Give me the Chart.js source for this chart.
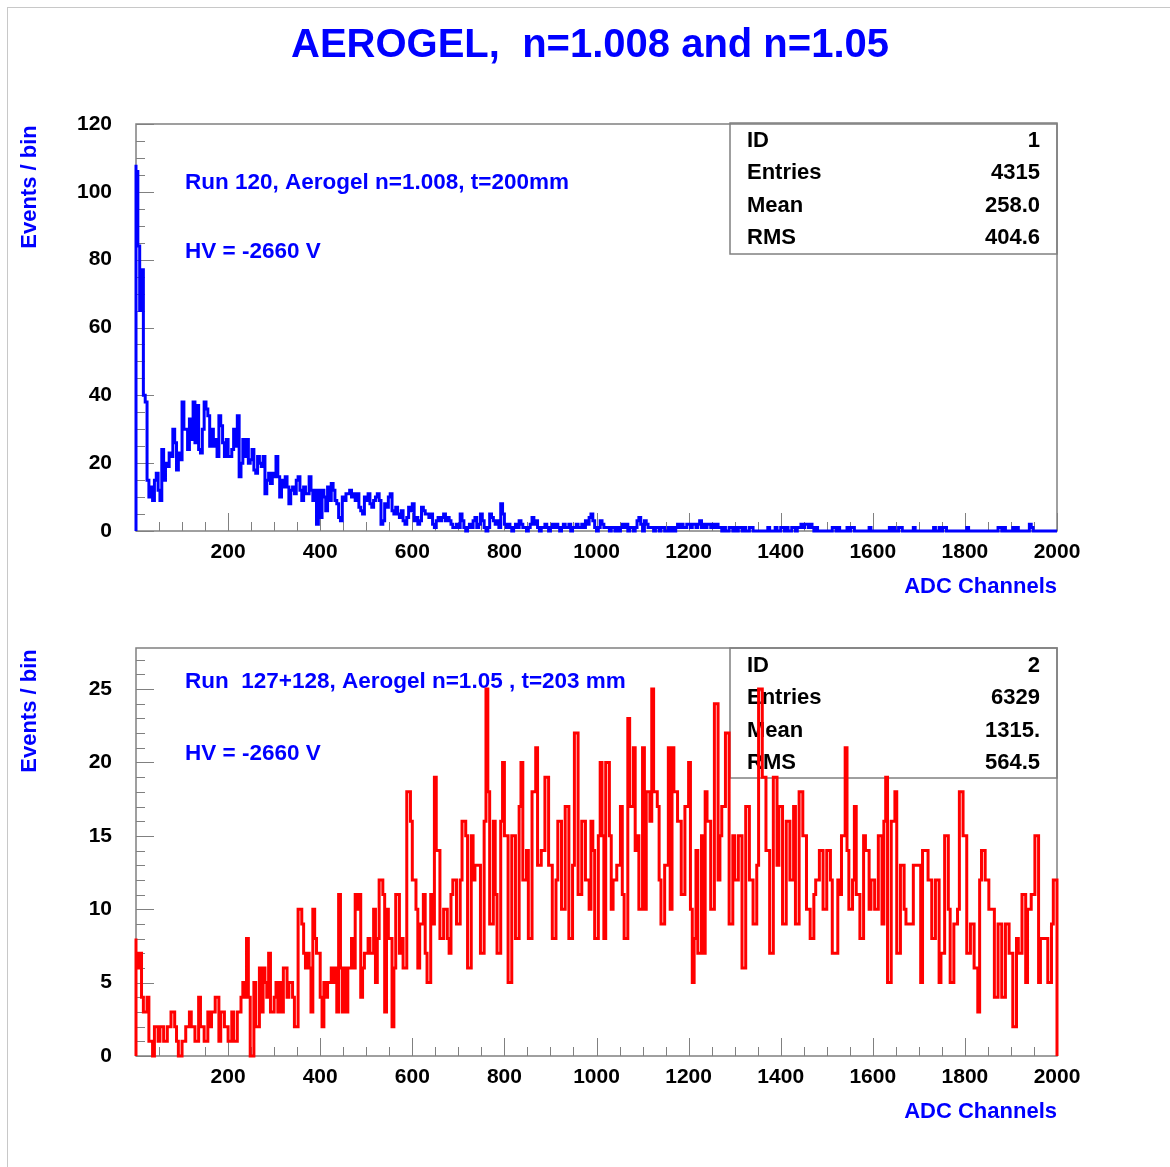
<!DOCTYPE html>
<html>
<head>
<meta charset="utf-8">
<script src="https://cdn.jsdelivr.net/npm/chart.js@4.4.1/dist/chart.umd.min.js"></script>
<style>
  html, body { margin: 0; padding: 0; background: #fff; }
  #page { position: relative; width: 1170px; height: 1167px; background: #fff; }
  #page canvas { position: absolute; left: 0; top: 0; }
</style>
</head>
<body>
<div id="page">
  <canvas id="topChart" width="1170" height="1167"></canvas>
  <canvas id="bottomChart" width="1170" height="1167"></canvas>
</div>
<script>
/* Histogram contents: 500 bins of 4 ADC channels, 0..2000 */
const BIN_WIDTH = 4;

// Run 120, n=1.008 (blue)
const topCounts = [
  108,106,84,65,77,40,38,15,10,13,9,15,17,12,9,24,15,20,19,23,
  22,30,26,18,23,21,38,30,30,24,33,27,38,26,37,24,23,30,38,36,
  34,25,30,25,27,22,34,31,26,22,27,22,22,24,30,25,34,16,20,27,
  22,27,20,21,24,18,17,22,20,19,22,11,15,17,14,17,16,22,16,10,
  15,13,16,13,8,12,13,11,15,16,12,9,13,11,11,16,12,9,12,2,
  12,4,12,10,6,13,9,14,12,9,8,4,3,10,9,11,11,12,10,11,
  9,11,7,6,5,10,9,11,8,7,9,10,11,9,2,3,8,7,10,11,
  6,5,7,5,4,6,3,2,4,7,6,8,3,4,2,3,7,6,5,5,
  4,5,2,1,3,4,3,4,5,3,4,3,2,1,1,2,1,5,3,1,
  0,1,2,1,3,4,1,2,5,3,1,0,1,5,4,3,2,3,1,8,
  5,2,1,2,1,0,1,2,1,3,2,1,1,0,1,2,4,2,3,1,
  0,1,1,2,1,0,1,2,1,2,1,0,1,2,1,1,2,0,1,1,
  2,1,1,2,1,3,2,4,5,3,1,0,1,3,2,1,1,1,0,1,
  1,0,1,0,1,2,1,2,0,1,1,0,1,3,4,2,0,3,2,1,
  1,1,0,1,1,0,1,1,0,0,1,0,1,0,1,2,1,2,1,1,
  2,2,1,2,2,1,2,3,1,2,1,2,2,1,2,1,2,1,1,0,
  1,0,0,1,1,0,1,0,1,1,0,1,0,0,1,1,0,0,0,0,
  0,0,0,0,1,0,0,0,1,0,0,1,1,0,1,0,0,1,1,0,
  1,1,2,1,2,2,1,2,1,0,1,0,0,0,0,0,0,0,0,1,
  1,0,1,0,0,0,0,1,0,1,1,0,0,0,0,0,0,0,0,1,
  0,0,0,0,0,0,0,0,0,0,1,0,1,0,0,1,1,0,0,0,
  0,0,0,1,0,0,0,0,0,0,0,0,0,0,1,0,0,1,0,1,
  1,0,0,0,0,0,0,0,0,0,0,0,1,0,0,0,0,0,0,0,
  0,0,0,0,0,0,0,0,0,1,1,0,1,0,0,0,0,1,0,1,
  0,0,0,0,0,0,2,1,0,0,0,0,0,0,0,0,0,0,0,0
];

// Runs 127+128, n=1.05 (red)
const bottomCounts = [
  8,7,6,7,4,3,3,4,1,1,0,2,2,1,2,2,1,1,2,2,
  3,3,2,1,0,0,1,1,2,2,3,2,2,1,1,4,2,2,1,1,
  3,2,3,3,4,4,1,3,3,2,2,1,1,3,1,1,3,3,4,5,
  4,8,4,0,0,5,2,2,6,3,6,5,4,7,3,3,4,5,3,5,
  3,6,6,4,5,5,4,2,2,10,10,9,7,6,7,6,3,10,8,7,
  7,4,2,5,4,5,5,6,5,6,3,11,6,3,6,3,6,6,8,6,
  11,10,11,4,6,7,7,8,7,7,10,5,8,12,12,11,3,10,8,8,
  2,6,11,11,7,8,6,6,18,18,16,12,12,10,6,9,9,11,7,5,
  5,11,9,19,14,14,8,8,10,10,8,7,11,12,12,9,9,12,16,16,
  15,6,6,15,12,13,13,13,7,7,16,25,18,9,9,16,11,7,7,16,
  20,15,15,5,5,15,15,8,8,17,20,12,12,14,8,8,18,18,21,13,
  13,14,14,19,19,13,13,8,8,12,16,16,10,10,17,17,8,8,13,22,
  22,11,11,16,16,12,12,10,16,14,8,8,15,20,15,8,20,20,15,10,
  12,12,13,13,17,11,8,8,23,17,17,21,14,15,10,10,21,10,18,18,
  16,25,18,18,17,12,9,9,13,13,21,10,21,18,18,16,16,11,11,17,
  17,20,10,5,8,14,7,7,15,7,18,16,16,10,10,24,24,12,15,17,
  17,22,22,9,9,15,12,12,15,15,6,6,17,17,12,12,9,9,13,25,
  25,19,19,14,14,7,7,19,19,13,17,17,9,9,16,16,12,12,17,9,
  9,18,18,15,15,10,10,8,8,11,12,12,14,14,10,10,14,14,12,7,
  7,7,12,11,15,15,21,14,10,10,12,17,11,11,8,8,15,14,14,10,
  12,12,10,10,15,15,9,16,19,5,5,16,16,18,7,7,13,13,10,9,
  9,9,9,13,13,13,13,5,14,14,14,12,12,8,8,12,12,5,7,7,
  15,15,10,5,5,9,9,10,18,18,15,15,7,7,9,9,6,6,3,12,
  14,14,12,12,10,10,10,4,4,9,9,4,4,9,9,7,7,2,2,8,
  7,7,11,11,5,10,10,11,11,15,15,5,8,8,8,8,5,5,9,12
];

const topStats = [['ID', '1'], ['Entries', '4315'], ['Mean', '258.0'], ['RMS', '404.6']];
const bottomStats = [['ID', '2'], ['Entries', '6329'], ['Mean', '1315.'], ['RMS', '564.5']];
const topNotes = ['Run 120, Aerogel n=1.008, t=200mm', 'HV = -2660 V'];
const bottomNotes = ['Run  127+128, Aerogel n=1.05 , t=203 mm', 'HV = -2660 V'];
const pageTitle = 'AEROGEL,  n=1.008 and n=1.05';
const xTitle = 'ADC Channels';
const yTitle = 'Events / bin';

const FONT = '"Liberation Sans", Arial, Helvetica, sans-serif';
const BLUE = '#0000ff';
const FRAME = '#808080';

/* Builds the step outline of a histogram (PAW style, closed at both ends) */
function histPoints(counts) {
    const pts = [{ x: 0, y: 0 }];
    counts.forEach((c, i) => pts.push({ x: i * BIN_WIDTH, y: c }));
    const end = counts.length * BIN_WIDTH;
    pts.push({ x: end, y: counts[counts.length - 1] });
    pts.push({ x: end, y: 0 });
    return pts;
}

/* Frame, inner ticks, labels and statistics box */
const panelDecor = {
    id: 'panelDecor',
    beforeDatasetsDraw(chart, args, o) {
        const { ctx, chartArea: a } = chart;
        const x = chart.scales.x, y = chart.scales.y;
        ctx.save();

        // page border and title (top panel only)
        if (o.title) {
            ctx.strokeStyle = '#c8c8c8';
            ctx.lineWidth = 1;
            ctx.strokeRect(7.5, 7.5, 1200, 1200);
            ctx.fillStyle = BLUE;
            ctx.font = 'bold 40px ' + FONT;
            ctx.textAlign = 'center';
            ctx.textBaseline = 'middle';
            ctx.fillText(o.title, 590, 46);
        }

        // frame
        ctx.strokeStyle = FRAME;
        ctx.lineWidth = 1.5;
        ctx.strokeRect(a.left, a.top, a.right - a.left, a.bottom - a.top);

        // ticks pointing inside
        ctx.lineWidth = 1;
        ctx.beginPath();
        for (let v = 0; v <= x.max; v += 50) {
            const px = Math.round(x.getPixelForValue(v)) + 0.5;
            const len = v % 200 === 0 ? 18 : 9;
            ctx.moveTo(px, a.bottom);
            ctx.lineTo(px, a.bottom - len);
        }
        const every = Math.round(o.yMajor / o.yMinor);
        for (let k = 0; k * o.yMinor <= y.max; k++) {
            const py = Math.round(y.getPixelForValue(k * o.yMinor)) + 0.5;
            const len = k % every === 0 ? 18 : 9;
            ctx.moveTo(a.left, py);
            ctx.lineTo(a.left + len, py);
        }
        ctx.stroke();

        // axis titles
        ctx.fillStyle = BLUE;
        ctx.font = 'bold 22px ' + FONT;
        ctx.textAlign = 'right';
        ctx.textBaseline = 'middle';
        ctx.fillText(xTitle, a.right, a.bottom + 56);
        ctx.save();
        ctx.translate(30, a.top + 63);
        ctx.rotate(-Math.PI / 2);
        ctx.textAlign = 'center';
        ctx.fillText(yTitle, 0, 0);
        ctx.restore();

        // run notes
        ctx.font = 'bold 22.5px ' + FONT;
        ctx.textAlign = 'left';
        o.notes.forEach((t, i) => ctx.fillText(t, 185, o.noteY[i]));

        // statistics box
        const b = o.box;
        ctx.strokeStyle = FRAME;
        ctx.lineWidth = 1.5;
        ctx.strokeRect(b.left, b.top, b.width, b.height);
        ctx.fillStyle = '#000';
        ctx.font = 'bold 22px ' + FONT;
        o.stats.forEach((row, i) => {
            const ty = b.top + 17.5 + i * 32.5;
            ctx.textAlign = 'left';
            ctx.fillText(row[0], b.left + 17, ty);
            ctx.textAlign = 'right';
            ctx.fillText(row[1], b.left + 310, ty);
        });
        ctx.restore();
    }
};

/* Creates one histogram panel */
function createPanel(canvasId, counts, color, yMax, yMajor, yMinor, padTop, padBottom, deco) {
    const tickFont = { family: FONT, size: 21, weight: 'bold' };
    return new Chart(document.getElementById(canvasId), {
        type: 'line',
        data: {
            datasets: [{
                data: histPoints(counts),
                borderColor: color,
                borderWidth: 3,
                pointRadius: 0,
                stepped: 'after',
                fill: false,
                clip: false
            }]
        },
        options: {
            responsive: false,
            animation: false,
            devicePixelRatio: 1,
            events: [],
            layout: { padding: { top: padTop, right: 113, bottom: padBottom, left: 0 } },
            scales: {
                x: {
                    type: 'linear',
                    min: 0,
                    max: counts.length * BIN_WIDTH,
                    afterFit: s => { s.height = 40; },
                    grid: { display: false, drawTicks: false },
                    border: { display: false },
                    ticks: {
                        stepSize: 200,
                        padding: 9,
                        color: '#000',
                        font: tickFont,
                        autoSkip: false,
                        maxRotation: 0,
                        callback: v => (v === 0 ? '' : v)
                    }
                },
                y: {
                    min: 0,
                    max: yMax,
                    afterFit: s => { s.width = 136; },
                    grid: { display: false, drawTicks: false },
                    border: { display: false },
                    ticks: {
                        stepSize: yMajor,
                        includeBounds: false,
                        padding: 24,
                        color: '#000',
                        font: tickFont
                    }
                }
            },
            plugins: {
                legend: { display: false },
                tooltip: { enabled: false },
                panelDecor: Object.assign({ yMajor: yMajor, yMinor: yMinor }, deco)
            }
        },
        plugins: [panelDecor]
    });
}

createPanel('topChart', topCounts, '#0000ff', 120, 20, 5, 124, 596, {
    title: pageTitle,
    notes: topNotes,
    noteY: [183, 252],
    stats: topStats,
    box: { left: 730, top: 123, width: 327, height: 131 }
});

createPanel('bottomChart', bottomCounts, '#ff0000', 27.8, 5, 1, 648, 71, {
    title: null,
    notes: bottomNotes,
    noteY: [682, 754],
    stats: bottomStats,
    box: { left: 730, top: 648, width: 327, height: 130 }
});
</script>
</body>
</html>
